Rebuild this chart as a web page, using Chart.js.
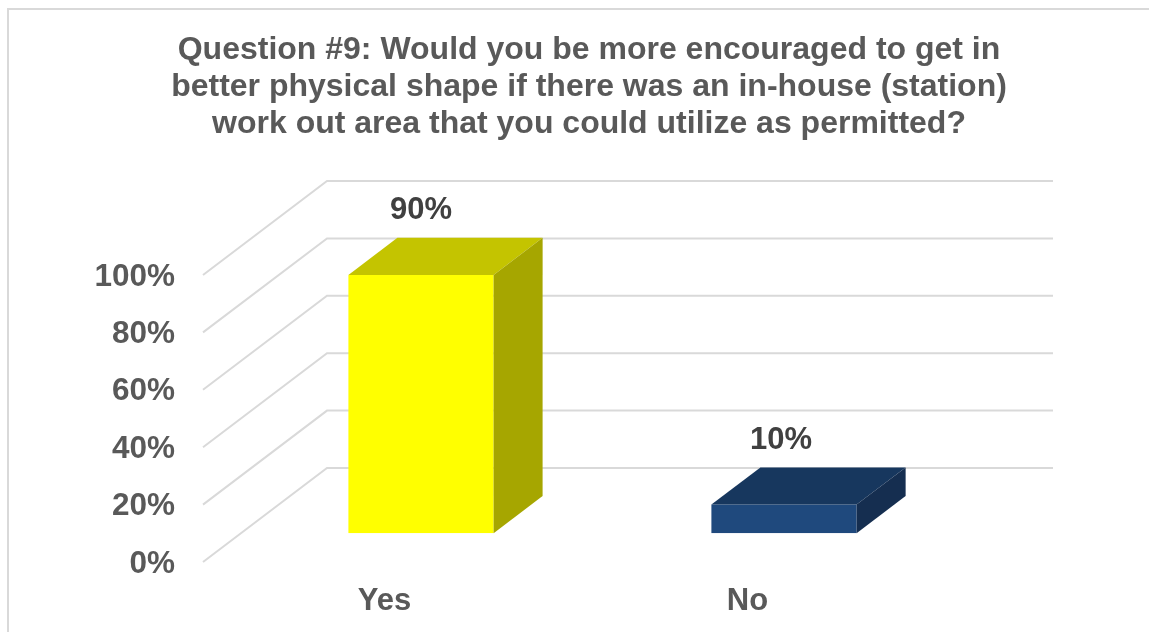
<!DOCTYPE html>
<html>
<head>
<meta charset="utf-8">
<title>Question 9</title>
<script src="https://cdn.jsdelivr.net/npm/chart.js@4"></script>
<style>
  html, body { margin: 0; padding: 0; background: #fff; overflow: hidden; }
  canvas { display: block; }
</style>
</head>
<body>
<canvas id="grafico" width="1149" height="632"></canvas>
<script>
const categorias = ['Yes', 'No'];
const porcentajes = [90, 10];
const coloresFrente = ['#FFFF00', '#1F497D'];
const coloresTecho = ['#C4C400', '#17375E'];
const coloresLado = ['#A6A600', '#152E50'];
const titulo = [
    'Question #9: Would you be more encouraged to get in',
    'better physical shape if there was an in-house (station)',
    'work out area that you could utilize as permitted?'
];

const fuente = '"Liberation Sans", Arial, sans-serif';
const colorTexto = '#595959';
const colorLinea = '#D9D9D9';

// desplazamientos de la perspectiva
const paredX = 124, paredY = 94, paredFinX = 1053;
const barraX = 36.5, barraY = 28.7;
const fondoX = 49, fondoY = 37.2;
const ajusteEtiquetaX = [0, -3];

function linea(ctx, puntos) {
    ctx.beginPath();
    puntos.forEach((p, i) => i ? ctx.lineTo(p[0], p[1]) : ctx.moveTo(p[0], p[1]));
    ctx.stroke();
}

function cara(ctx, puntos, color) {
    ctx.fillStyle = color;
    ctx.beginPath();
    puntos.forEach((p, i) => i ? ctx.lineTo(p[0], p[1]) : ctx.moveTo(p[0], p[1]));
    ctx.closePath();
    ctx.fill();
}

const grafico3d = {
    id: 'grafico3d',
    afterLayout(chart) {
        // el titulo va un poco a la derecha del centro del lienzo
        chart.titleBlock.left = 29;
        chart.titleBlock.right = 1149;
        // las etiquetas del eje y bajan hasta el inicio de cada linea
        chart.scales.y.getLabelItems().forEach(item => { item.textOffset += 2; });
    },
    beforeDraw(chart) {
        const ctx = chart.ctx;
        ctx.save();
        ctx.strokeStyle = colorLinea;
        ctx.lineWidth = 2;
        linea(ctx, [[8, 632], [8, 9], [1149, 9]]);
        ctx.restore();
    },
    beforeDatasetsDraw(chart) {
        const ctx = chart.ctx;
        const y = chart.scales.y;
        const izq = chart.chartArea.left;
        ctx.save();
        ctx.strokeStyle = colorLinea;
        ctx.lineWidth = 2;
        y.ticks.forEach(t => {
            const py = y.getPixelForValue(t.value);
            linea(ctx, [[izq, py], [izq + paredX, py - paredY], [paredFinX, py - paredY]]);
        });
        ctx.restore();
        ctx.save();
        ctx.translate(barraX, -barraY);
    },
    afterDatasetsDraw(chart) {
        const ctx = chart.ctx;
        const meta = chart.getDatasetMeta(0);
        meta.data.forEach((barra, i) => {
            const izq = barra.x - barra.width / 2;
            const der = barra.x + barra.width / 2;
            cara(ctx, [[izq, barra.y], [der, barra.y], [der + fondoX, barra.y - fondoY], [izq + fondoX, barra.y - fondoY]], coloresTecho[i]);
            cara(ctx, [[der, barra.y], [der + fondoX, barra.y - fondoY], [der + fondoX, barra.base - fondoY], [der, barra.base]], coloresLado[i]);
            ctx.fillStyle = '#404040';
            ctx.font = 'bold 31px ' + fuente;
            ctx.textAlign = 'center';
            ctx.textBaseline = 'middle';
            ctx.fillText(porcentajes[i] + '%', barra.x + ajusteEtiquetaX[i], barra.y - fondoY - 27);
        });
        ctx.restore();
    }
};

new Chart(document.getElementById('grafico').getContext('2d'), {
    type: 'bar',
    data: {
        labels: categorias,
        datasets: [{
            data: porcentajes,
            backgroundColor: coloresFrente,
            borderWidth: 0,
            categoryPercentage: 1,
            barPercentage: 0.4
        }]
    },
    plugins: [grafico3d],
    options: {
        responsive: false,
        animation: false,
        layout: { padding: { left: 0, right: 220, top: 0, bottom: 0 } },
        plugins: {
            legend: { display: false },
            tooltip: { enabled: false },
            title: {
                display: true,
                text: titulo,
                color: colorTexto,
                font: { family: fuente, size: 32, weight: 'bold', lineHeight: 1.156 },
                padding: { top: 32, bottom: 132 }
            }
        },
        scales: {
            x: {
                grid: { display: false },
                border: { display: false },
                ticks: {
                    color: colorTexto,
                    padding: 13,
                    maxRotation: 0,
                    font: { family: fuente, size: 31, weight: 'bold' }
                },
                afterFit(escala) { escala.height = 70; }
            },
            y: {
                min: 0,
                max: 100,
                grid: { display: false },
                border: { display: false },
                ticks: {
                    stepSize: 20,
                    color: colorTexto,
                    padding: 20,
                    callback: v => v + '%',
                    font: { family: fuente, size: 31.5, weight: 'bold' }
                },
                afterFit(escala) { escala.width = 203; }
            }
        }
    }
});
</script>
</body>
</html>
